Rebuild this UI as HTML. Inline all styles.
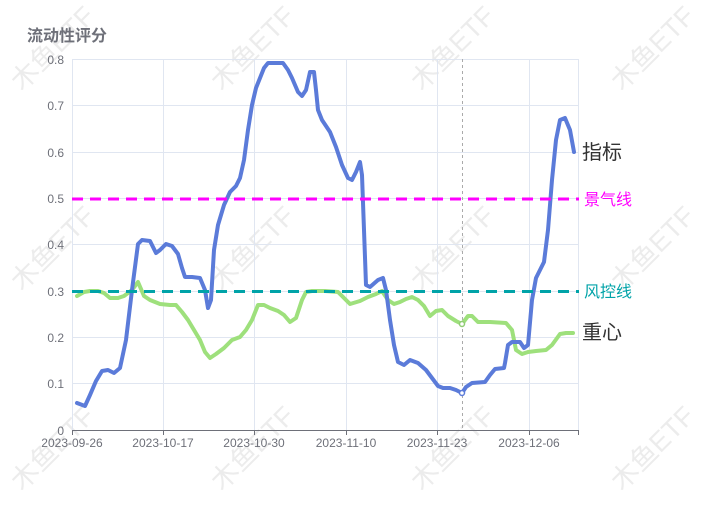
<!DOCTYPE html>
<html><head><meta charset="utf-8"><style>
body{margin:0;background:#fff;width:719px;height:500px;overflow:hidden}
svg{font-family:"Liberation Sans","Noto Sans CJK SC",sans-serif}
</style></head><body>
<svg width="719" height="500" viewBox="0 0 719 500" xmlns="http://www.w3.org/2000/svg">
<g fill="#ececec" font-size="27">
<text transform="translate(22,92) rotate(-45)">木鱼ETF</text>
<text transform="translate(222,92) rotate(-45)">木鱼ETF</text>
<text transform="translate(422,92) rotate(-45)">木鱼ETF</text>
<text transform="translate(622,92) rotate(-45)">木鱼ETF</text>
<text transform="translate(22,292) rotate(-45)">木鱼ETF</text>
<text transform="translate(222,292) rotate(-45)">木鱼ETF</text>
<text transform="translate(422,292) rotate(-45)">木鱼ETF</text>
<text transform="translate(622,292) rotate(-45)">木鱼ETF</text>
<text transform="translate(22,492) rotate(-45)">木鱼ETF</text>
<text transform="translate(222,492) rotate(-45)">木鱼ETF</text>
<text transform="translate(422,492) rotate(-45)">木鱼ETF</text>
<text transform="translate(622,492) rotate(-45)">木鱼ETF</text>
</g>
<text x="27" y="41" font-size="16" font-weight="bold" fill="#6e7079">流动性评分</text>
<g stroke="#e0e6f1" stroke-width="1">
<line x1="72" y1="59.5" x2="579" y2="59.5"/><line x1="72" y1="105.5" x2="579" y2="105.5"/>
<line x1="72" y1="152.5" x2="579" y2="152.5"/><line x1="72" y1="198.5" x2="579" y2="198.5"/>
<line x1="72" y1="244.5" x2="579" y2="244.5"/><line x1="72" y1="291.5" x2="579" y2="291.5"/>
<line x1="72" y1="337.5" x2="579" y2="337.5"/><line x1="72" y1="383.5" x2="579" y2="383.5"/>
<line x1="72.5" y1="59" x2="72.5" y2="430"/><line x1="163.5" y1="59" x2="163.5" y2="430"/>
<line x1="254.5" y1="59" x2="254.5" y2="430"/><line x1="346.5" y1="59" x2="346.5" y2="430"/>
<line x1="437.5" y1="59" x2="437.5" y2="430"/><line x1="529.5" y1="59" x2="529.5" y2="430"/>
<line x1="578.5" y1="59" x2="578.5" y2="430"/>
</g>
<g stroke="#6e7079" stroke-width="1">
<line x1="72" y1="430.5" x2="579" y2="430.5"/>
<line x1="72.5" y1="430" x2="72.5" y2="435"/><line x1="163.5" y1="430" x2="163.5" y2="435"/>
<line x1="254.5" y1="430" x2="254.5" y2="435"/><line x1="346.5" y1="430" x2="346.5" y2="435"/>
<line x1="437.5" y1="430" x2="437.5" y2="435"/><line x1="529.5" y1="430" x2="529.5" y2="435"/>
<line x1="578.5" y1="430" x2="578.5" y2="435"/>
</g>
<g font-size="12" fill="#6e7079" text-anchor="end">
<text x="64" y="64">0.8</text><text x="64" y="110">0.7</text><text x="64" y="157">0.6</text>
<text x="64" y="203">0.5</text><text x="64" y="249">0.4</text><text x="64" y="296">0.3</text>
<text x="64" y="342">0.2</text><text x="64" y="388">0.1</text><text x="64" y="435">0</text>
</g>
<g font-size="12" fill="#6e7079" text-anchor="middle">
<text x="72" y="447">2023-09-26</text><text x="163" y="447">2023-10-17</text>
<text x="254" y="447">2023-10-30</text><text x="346" y="447">2023-11-10</text>
<text x="437" y="447">2023-11-23</text><text x="529" y="447">2023-12-06</text>
</g>
<line x1="462.5" y1="59" x2="462.5" y2="430" stroke="#aaa" stroke-dasharray="3,3"/>
<polyline fill="none" stroke="#9ee07c" stroke-width="4" stroke-linejoin="round" stroke-linecap="round" points="77,296 84,292 90,291 98,291 104,293 110,298 118,298 124,296 132,290 138,282 144,296 150,300 160,304 170,305 176,305 182,312 188,320 194,330 200,340 205,352 210,358 216,354 224,348 232,340 240,337 246,330 252,320 258,305 264,305 270,308 278,311 284,315 290,322 296,318 302,300 306,292 312,291 325,291 338,292 344,298 350,304 360,301 368,297 376,294 382,291 388,300 394,304 400,302 406,299 412,297 418,300 424,306 430,316 436,311 442,310 448,316 456,321 462,324 468,316 472,316 478,322 490,322 506,323 512,330 516,350 522,354 528,352 536,351 546,350 552,345 560,334 566,333 573,333"/>
<polyline fill="none" stroke="#5b7bd9" stroke-width="4" stroke-linejoin="round" stroke-linecap="round" points="77,403 85,406 90,395 96,381 102,371 108,370 114,373 120,368 126,340 132,290 138,244 142,240 150,241 156,253 160,250 166,244 172,246 178,254 182,268 185,277 192,277 200,278 205,290 208,308 211,300 214,250 218,225 224,205 230,192 236,186 240,178 244,160 248,130 252,105 256,88 260,78 264,68 268,63 275,63 283,63 288,70 292,78 298,92 302,96 306,90 310,72 314,72 316,90 318,110 322,120 330,132 336,147 342,165 348,178 352,180 356,172 360,162 362,175 366,285 370,287 378,280 383,278 386,290 390,320 394,345 398,362 404,365 410,360 418,363 426,370 432,378 438,386 443,388 450,388 456,390 462,393 466,387 472,383 485,382 490,375 495,369 504,368 505,363 508,345 512,342 520,342 524,348 528,345 532,300 536,278 540,270 544,262 548,230 552,180 556,140 560,120 565,118 570,130 574,152"/>
<circle cx="462" cy="393" r="2.5" fill="#fff" stroke="#5b7bd9" stroke-width="1.5"/>
<circle cx="462" cy="324" r="2.5" fill="#fff" stroke="#91cc75" stroke-width="1.5"/>
<line x1="72" y1="199" x2="579" y2="199" stroke="#ff00ff" stroke-width="3" stroke-dasharray="11,7"/>
<line x1="72" y1="291.5" x2="579" y2="291.5" stroke="#00a3a8" stroke-width="3" stroke-dasharray="11,7"/>
<text x="584" y="205" font-size="16" fill="#ff00ff">景气线</text>
<text x="584" y="297" font-size="16" fill="#00a3a8">风控线</text>
<text x="582" y="159" font-size="20" fill="#333">指标</text>
<text x="582" y="339" font-size="20" fill="#333">重心</text>
</svg>
</body></html>
